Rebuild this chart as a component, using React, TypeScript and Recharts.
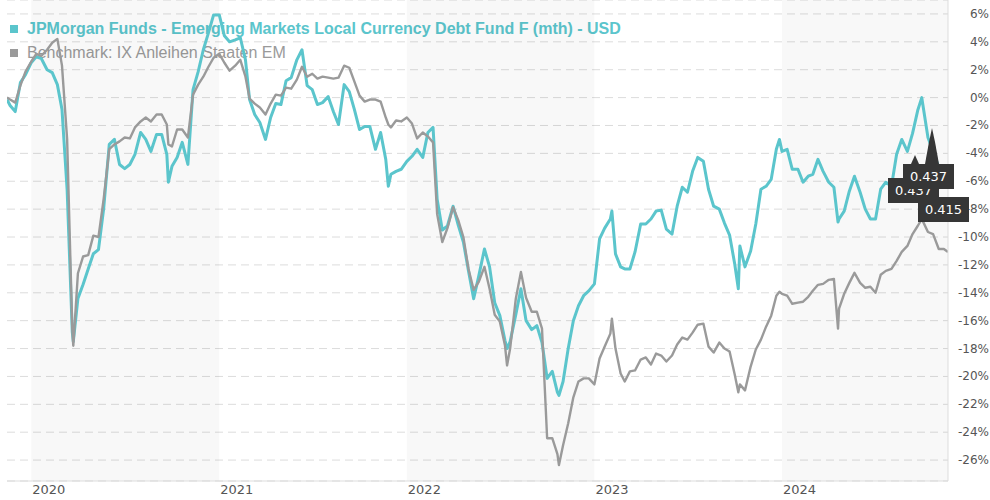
import React from 'react';
import { LineChart, Line, XAxis, YAxis, CartesianGrid, ReferenceArea } from 'recharts';

// ---- categories (observation dates) ----
const dates: string[] = [
  // 2019
  '2019-11-15', '2019-11-21', '2019-12-01', '2019-12-11', '2019-12-21',
  // 2020
  '2020-01-01', '2020-01-11', '2020-01-21', '2020-02-01', '2020-02-11', '2020-02-21', '2020-03-01', '2020-03-11', '2020-03-21', '2020-03-23',
  '2020-04-01', '2020-04-11', '2020-04-21', '2020-05-01', '2020-05-11', '2020-05-21', '2020-06-01', '2020-06-11', '2020-06-21',
  '2020-07-01', '2020-07-11', '2020-07-21', '2020-08-01', '2020-08-11', '2020-08-21', '2020-09-01', '2020-09-11', '2020-09-21', '2020-09-24',
  '2020-10-01', '2020-10-11', '2020-10-21', '2020-11-01', '2020-11-11', '2020-11-21', '2020-12-01', '2020-12-11', '2020-12-21',
  // 2021
  '2021-01-01', '2021-01-11', '2021-01-21', '2021-02-01', '2021-02-11', '2021-02-21', '2021-03-01', '2021-03-11', '2021-03-21',
  '2021-04-01', '2021-04-11', '2021-04-21', '2021-05-01', '2021-05-11', '2021-05-21', '2021-06-01', '2021-06-11', '2021-06-21',
  '2021-07-01', '2021-07-11', '2021-07-21', '2021-08-01', '2021-08-11', '2021-08-21', '2021-09-01', '2021-09-11', '2021-09-21',
  '2021-10-01', '2021-10-11', '2021-10-21', '2021-11-01', '2021-11-11', '2021-11-21', '2021-11-26', '2021-12-01', '2021-12-11', '2021-12-21',
  // 2022
  '2022-01-01', '2022-01-11', '2022-01-21', '2022-02-01', '2022-02-11', '2022-02-21', '2022-03-01', '2022-03-11', '2022-03-21',
  '2022-04-01', '2022-04-11', '2022-04-21', '2022-05-01', '2022-05-11', '2022-05-21', '2022-06-01', '2022-06-11', '2022-06-21',
  '2022-07-01', '2022-07-11', '2022-07-15', '2022-07-21', '2022-08-01', '2022-08-11', '2022-08-21', '2022-09-01', '2022-09-11', '2022-09-21',
  '2022-10-01', '2022-10-11', '2022-10-21', '2022-10-24', '2022-11-01', '2022-11-11', '2022-11-21', '2022-12-01', '2022-12-11', '2022-12-21',
  // 2023
  '2023-01-01', '2023-01-11', '2023-01-21', '2023-02-01', '2023-02-04', '2023-02-11', '2023-02-21', '2023-03-01', '2023-03-11', '2023-03-21',
  '2023-04-01', '2023-04-11', '2023-04-21', '2023-05-01', '2023-05-11', '2023-05-21', '2023-06-01', '2023-06-11', '2023-06-21',
  '2023-07-01', '2023-07-11', '2023-07-21', '2023-08-01', '2023-08-11', '2023-08-21', '2023-09-01', '2023-09-11', '2023-09-21',
  '2023-10-01', '2023-10-08', '2023-10-11', '2023-10-21', '2023-11-01', '2023-11-11', '2023-11-21', '2023-12-01', '2023-12-11', '2023-12-21', '2023-12-27',
  // 2024
  '2024-01-01', '2024-01-11', '2024-01-21', '2024-02-01', '2024-02-11', '2024-02-21', '2024-03-01', '2024-03-11', '2024-03-21',
  '2024-04-01', '2024-04-11', '2024-04-19', '2024-04-21', '2024-05-01', '2024-05-11', '2024-05-21', '2024-06-01', '2024-06-11', '2024-06-21',
  '2024-07-01', '2024-07-11', '2024-07-21', '2024-08-01', '2024-08-11', '2024-08-21', '2024-09-01', '2024-09-11', '2024-09-21', '2024-09-29',
  '2024-10-01', '2024-10-11', '2024-10-21', '2024-11-01', '2024-11-11', '2024-11-19',
];

// ---- series values (% performance) ----
const fundValues: number[] = [
  // 2019
  -0.14, -0.57, -1.0, 1.07, 1.64,
  // 2020
  2.5, 2.93, 2.79, 2.0, 1.79, 0.93, -0.86, -6.6, -16.8, -17.5,
  -14.4, -13.4, -12.3, -11.2, -10.9, -8.0, -3.36, -3.0, -4.8,
  -5.1, -4.8, -4.07, -2.5, -3.0, -3.86, -2.64, -2.64, -4.07, -6.07,
  -4.93, -4.29, -3.21, -4.79, 0.57, 1.86, 3.43, 4.64, 5.93,
  // 2021
  5.93, 4.43, 4.0, 4.14, 4.29, 2.71, -0.14, -1.21, -1.79,
  -3.0, -1.43, -0.43, -0.5, 1.21, 1.43, 2.71, 3.43, 0.86,
  0.57, -0.5, -0.36, 0.07, -1.0, -1.93, 0.93, 0.43, -0.86,
  -2.29, -2.07, -2.07, -3.71, -2.5, -4.43, -6.36, -5.5, -5.29, -5.14,
  // 2022
  -4.57, -4.21, -3.71, -4.29, -2.5, -2.14, -7.29, -9.5, -9.21,
  -7.79, -9.14, -10.36, -12.43, -14.43, -12.79, -10.86, -12.14, -14.71,
  -15.64, -17.43, -18.0, -17.5, -15.57, -13.71, -16.0, -16.64, -16.36, -17.57,
  -20.14, -19.64, -21.14, -21.36, -20.36, -18.0, -16.0, -14.93, -14.21, -13.86,
  // 2023
  -13.36, -10.14, -9.36, -8.71, -8.14, -11.21, -12.14, -12.29, -12.29, -11.07,
  -9.07, -9.07, -8.71, -8.14, -8.07, -9.43, -9.79, -7.79, -6.43,
  -6.79, -5.29, -4.29, -4.57, -6.57, -7.79, -8.0, -9.0, -9.86,
  -11.93, -13.71, -10.64, -12.14, -11.0, -9.07, -6.57, -6.36, -5.86, -3.71, -3.0,
  // 2024
  -3.86, -3.71, -5.14, -5.14, -6.07, -5.64, -5.5, -4.43, -5.29,
  -6.07, -6.43, -8.93, -8.71, -8.14, -6.71, -5.64, -6.79, -8.0, -8.71,
  -8.71, -6.57, -6.07, -6.36, -4.07, -3.0, -3.86, -2.57, -0.93, 0.0,
  -0.5, -2.86, -3.86, -5.0, -5.29, -5.14,
];

const benchValues: number[] = [
  // 2019
  0.0, -0.14, -0.36, 0.86, 1.86,
  // 2020
  2.57, 3.14, 3.0, 3.43, 3.93, 4.21, 2.29, -3.0, -16.6, -17.8,
  -12.6, -11.4, -11.3, -9.9, -10.0, -7.3, -3.7, -3.36, -3.14,
  -2.86, -2.93, -2.14, -1.71, -1.43, -1.71, -1.21, -1.21, -1.93, -3.36,
  -3.5, -2.29, -2.29, -2.86, 0.21, 0.93, 1.5, 2.21, 2.86,
  // 2021
  3.14, 2.5, 1.93, 2.29, 2.71, 1.5, -0.07, -0.43, -0.71,
  -1.21, -0.43, 0.21, 0.14, 0.71, 0.64, 1.29, 2.21, 1.5,
  1.71, 1.36, 1.5, 1.43, 1.36, 1.43, 2.29, 2.14, 1.14,
  0.14, -0.29, -0.14, -0.14, -0.29, -1.43, -1.93, -2.14, -1.64, -1.71,
  // 2022
  -1.43, -1.86, -2.93, -2.5, -2.79, -3.21, -8.36, -10.36, -9.36,
  -7.86, -8.79, -10.0, -12.29, -13.79, -13.21, -12.14, -13.71, -15.57,
  -16.07, -17.79, -19.21, -18.0, -14.43, -12.5, -14.36, -15.36, -15.36, -16.57,
  -24.43, -24.43, -25.57, -26.36, -24.93, -23.36, -21.5, -20.36, -20.14, -20.14,
  // 2023
  -20.57, -18.71, -17.86, -16.93, -15.86, -18.0, -19.79, -20.36, -19.64, -19.57,
  -18.79, -18.64, -19.14, -18.36, -18.5, -18.93, -18.5, -17.71, -17.21,
  -17.36, -16.86, -16.29, -16.21, -17.86, -18.29, -17.57, -18.0, -18.21,
  -19.86, -21.14, -20.57, -21.0, -19.29, -18.07, -17.36, -16.43, -15.64, -14.21, -13.93,
  // 2024
  -14.07, -14.21, -14.79, -14.71, -14.64, -14.29, -13.86, -13.43, -13.36,
  -13.07, -13.0, -16.57, -15.14, -14.07, -13.29, -12.57, -13.29, -13.64, -13.57,
  -14.0, -12.71, -12.43, -12.29, -11.71, -11.07, -10.64, -9.79, -9.21, -8.71,
  -8.86, -9.64, -9.79, -10.86, -10.86, -11.07,
];

// ---- tick labels ----
const yearTicks: string[] = ['2020-01-01', '2021-01-01', '2022-01-01', '2023-01-01', '2024-01-01'];
const yearLabels: string[] = ['2020', '2021', '2022', '2023', '2024'];
const yTicks: number[] = [6, 4, 2, 0, -2, -4, -6, -8, -10, -12, -14, -16, -18, -20, -22, -24, -26];
const shadedYears: [string, string][] = [
  ['2020-01-01', '2021-01-01'],
  ['2022-01-01', '2023-01-01'],
  ['2024-01-01', '2024-11-19'],
];

const seriesNames = {
  fund: 'JPMorgan Funds - Emerging Markets Local Currency Debt Fund F (mth) - USD',
  bench: 'Benchmark: IX Anleihen Staaten EM',
};
const tooltipLabels: string[] = ['0.437', '0.437', '0.415'];

const TEAL = '#5bc5cc';
const GRAY = '#9a9a9a';

const toTs = (d: string) => {
  const [y, m, dd] = d.split('-').map(Number);
  return Date.UTC(y, m - 1, dd);
};

const data = dates.map((d, i) => ({ t: toTs(d), fund: fundValues[i], bench: benchValues[i] }));
const xTicks = yearTicks.map(toTs);

const XTick = (props: any) => {
  const { x, payload } = props;
  const idx = xTicks.indexOf(payload.value);
  return (
    <text x={x + 1} y={494} textAnchor="start" fill="#555" fontSize={13} fontFamily="DejaVu Sans">
      {idx >= 0 ? yearLabels[idx] : ''}
    </text>
  );
};

const YTick = (props: any) => {
  const { y, payload } = props;
  return (
    <text x={989} y={y} textAnchor="end" dominantBaseline="central" fill="#555" fontSize={12} fontFamily="DejaVu Sans">
      {`${payload.value}%`}
    </text>
  );
};

const Box = ({ left, top, label, z }: { left: number; top: number; label: string; z: number }) => (
  <div
    style={{
      position: 'absolute',
      left,
      top,
      width: 51,
      height: 25,
      background: '#363636',
      color: '#fff',
      fontFamily: 'DejaVu Sans',
      fontSize: 13,
      lineHeight: '25px',
      textAlign: 'center',
      zIndex: z,
    }}
  >
    {label}
  </div>
);

export default function App() {
  return (
    <div style={{ position: 'absolute', left: 0, top: 0, width: 990, height: 500, background: 'transparent' }}>
      {/* legend, sitting under the plotted lines */}
      <div style={{ position: 'absolute', left: 0, top: 0, zIndex: -1, fontFamily: 'Liberation Sans', fontSize: 16 }}>
        <div style={{ position: 'absolute', left: 10, top: 19, whiteSpace: 'nowrap', lineHeight: '20px', color: TEAL, fontWeight: 'bold' }}>
          <span style={{ display: 'inline-block', width: 8, height: 8, background: TEAL, marginRight: 9, verticalAlign: 'middle', position: 'relative', top: -1 }} />
          {seriesNames.fund}
        </div>
        <div style={{ position: 'absolute', left: 10, top: 43, whiteSpace: 'nowrap', lineHeight: '20px', color: GRAY }}>
          <span style={{ display: 'inline-block', width: 8, height: 8, background: GRAY, marginRight: 9, verticalAlign: 'middle', position: 'relative', top: -1 }} />
          {seriesNames.bench}
        </div>
      </div>
      <LineChart width={990} height={500} data={data} margin={{ top: 0, right: 0, left: 7, bottom: 0 }}>
        {shadedYears.map(([a, b]) => (
          <ReferenceArea key={a} x1={toTs(a)} x2={toTs(b)} fill="#000" fillOpacity={0.028} stroke="none" ifOverflow="hidden" />
        ))}
        <CartesianGrid vertical={false} stroke="#dcdcdc" strokeDasharray="8 5" />
        <XAxis
          dataKey="t"
          type="number"
          domain={[toTs(dates[0]), toTs(dates[dates.length - 1])]}
          ticks={xTicks}
          interval={0}
          tick={<XTick />}
          tickLine={false}
          axisLine={{ stroke: '#dddddd' }}
          height={19}
          allowDataOverflow
        />
        <YAxis
          orientation="right"
          domain={[-27.5, 7]}
          ticks={yTicks}
          interval={0}
          tick={<YTick />}
          tickLine={false}
          axisLine={{ stroke: '#dddddd' }}
          width={42}
          allowDataOverflow
        />
        <Line dataKey="fund" stroke={TEAL} strokeWidth={3} dot={false} isAnimationActive={false} strokeLinejoin="round" />
        <Line dataKey="bench" stroke={GRAY} strokeWidth={2.4} dot={false} isAnimationActive={false} strokeLinejoin="round" />
      </LineChart>
      {/* hover labels */}
      <svg style={{ position: 'absolute', left: 0, top: 0, zIndex: 1 }} width={990} height={500}>
        <polygon points="911,164 915,155 919,164" fill="#363636" />
        <polygon points="925,164 929,142 932,128 935,142 939,164" fill="#363636" />
      </svg>
      <Box left={888} top={178} label={tooltipLabels[1]} z={2} />
      <Box left={903} top={164} label={tooltipLabels[0]} z={3} />
      <Box left={918} top={197} label={tooltipLabels[2]} z={4} />
    </div>
  );
}
